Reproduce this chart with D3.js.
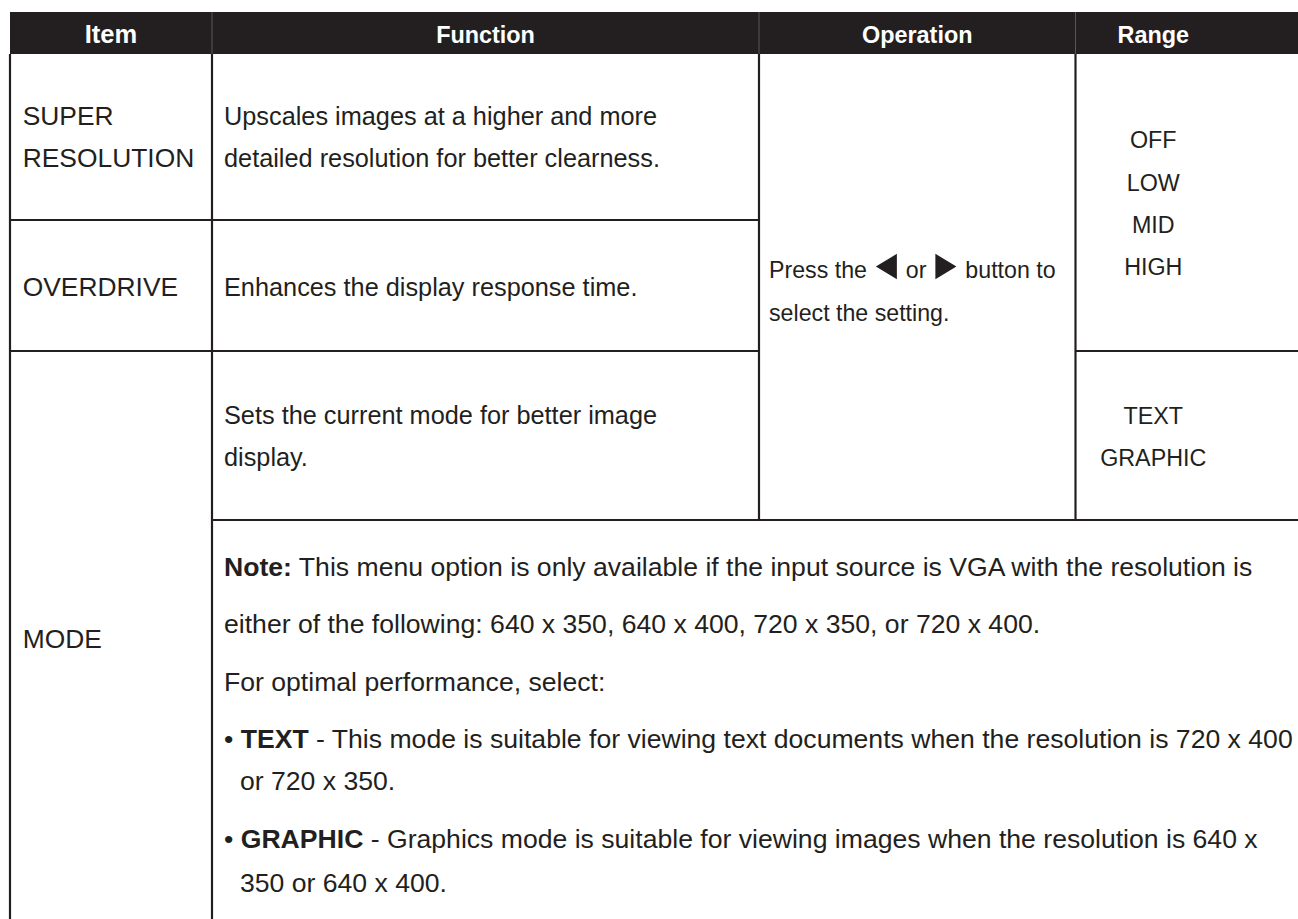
<!DOCTYPE html>
<html>
<head>
<meta charset="utf-8">
<script src="https://cdn.jsdelivr.net/npm/d3@7"></script>
<style>
  html, body { margin: 0; padding: 0; background: #ffffff; }
  svg { display: block; }
  text { font-family: "Liberation Sans", Arial, Helvetica, sans-serif; }
</style>
</head>
<body>
<svg id="chart" width="1298" height="919"></svg>
<script>
// ---------- DATA ----------
const headers = ["Item", "Function", "Operation", "Range"];
const itemLabels = [["SUPER", "RESOLUTION"], ["OVERDRIVE"], ["MODE"]];
const functionLines = [
  ["Upscales images at a higher and more", "detailed resolution for better clearness."],
  ["Enhances the display response time."],
  ["Sets the current mode for better image", "display."]
];
const operationLines = [
  [{t: "Press the "}, {tri: "left"}, {t: " or "}, {tri: "right"}, {t: " button to"}],
  [{t: "select the setting."}]
];
const rangeGroups = [["OFF", "LOW", "MID", "HIGH"], ["TEXT", "GRAPHIC"]];
const noteLines = [
  {indent: 0, parts: [{t: "Note:", b: true}, {t: " This menu option is only available if the input source is VGA with the resolution is"}]},
  {indent: 0, parts: [{t: "either of the following: 640 x 350, 640 x 400, 720 x 350, or 720 x 400."}]},
  {indent: 0, parts: [{t: "For optimal performance, select:"}]},
  {indent: 0, parts: [{t: "• "}, {t: "TEXT", b: true}, {t: " - This mode is suitable for viewing text documents when the resolution is 720 x 400"}]},
  {indent: 1, parts: [{t: "or 720 x 350."}]},
  {indent: 0, parts: [{t: "• "}, {t: "GRAPHIC", b: true}, {t: " - Graphics mode is suitable for viewing images when the resolution is 640 x"}]},
  {indent: 1, parts: [{t: "350 or 640 x 400."}]}
];

// ---------- LAYOUT ----------
const ink = "#231f20";
const fsItem = 26.4, fsFunc = 25.3, fsOp = 23.2, fsRange = 23.3, fsNote = 26.6, fsHead = 23.4;
const svg = d3.select("#chart");

// column boundaries (x) and centres
const colEdges = [10, 212, 759, 1075.5, 1231];
const colCenter = d3.scaleOrdinal().domain(headers)
  .range(headers.map((h, i) => (colEdges[i] + colEdges[i + 1]) / 2));

// row boundaries (y)
const headTop = 12, headBot = 54;
const rowEdges = [54, 220, 351, 520, 919];

// header
svg.append("rect").attr("x", 10).attr("y", headTop).attr("width", 1298 - 10).attr("height", headBot - headTop).attr("fill", ink);
svg.selectAll("line.hsep").data(colEdges.slice(1, 4)).join("line")
  .attr("class", "hsep").attr("x1", d => d).attr("x2", d => d).attr("y1", headTop).attr("y2", headBot)
  .attr("stroke", "#5a5657").attr("stroke-width", 1);
svg.selectAll("text.head").data(headers).join("text")
  .attr("class", "head").attr("x", d => colCenter(d)).attr("y", 42.7)
  .attr("text-anchor", "middle").attr("fill", "#ffffff").attr("font-weight", "bold")
  .attr("font-size", d => d === "Item" ? 25.5 : fsHead).text(d => d);

// grid lines
const gridLines = [
  {x1: 10, x2: 10, y1: headBot, y2: 919},
  {x1: 212, x2: 212, y1: headBot, y2: 919},
  {x1: 759, x2: 759, y1: headBot, y2: rowEdges[3]},
  {x1: 1075.5, x2: 1075.5, y1: headBot, y2: rowEdges[3]},
  {x1: 10, x2: 759, y1: rowEdges[1], y2: rowEdges[1]},
  {x1: 10, x2: 759, y1: rowEdges[2], y2: rowEdges[2]},
  {x1: 1075.5, x2: 1298, y1: rowEdges[2], y2: rowEdges[2]},
  {x1: 212, x2: 1298, y1: rowEdges[3], y2: rowEdges[3]}
];
svg.selectAll("line.grid").data(gridLines).join("line")
  .attr("class", "grid")
  .attr("x1", d => d.x1).attr("x2", d => d.x2).attr("y1", d => d.y1).attr("y2", d => d.y2)
  .attr("stroke", ink).attr("stroke-width", 2.2);

const lh = 42.2;
// items
const itemBase = [124.6, 295.5, 648.3];
itemLabels.forEach((lines, i) => {
  svg.append("g").selectAll("text").data(lines).join("text")
    .attr("x", 22.7).attr("y", (d, j) => itemBase[i] + j * lh)
    .attr("fill", ink).attr("font-size", fsItem).text(d => d);
});
// functions
const funcBase = [124.6, 295.5, 424.2];
functionLines.forEach((lines, i) => {
  svg.append("g").selectAll("text").data(lines).join("text")
    .attr("x", 224).attr("y", (d, j) => funcBase[i] + j * lh)
    .attr("fill", ink).attr("font-size", fsFunc).text(d => d);
});
// ranges
const rangeBase = [148.3, 424.2];
rangeGroups.forEach((lines, i) => {
  svg.append("g").selectAll("text").data(lines).join("text")
    .attr("x", colCenter("Range")).attr("y", (d, j) => rangeBase[i] + j * lh)
    .attr("text-anchor", "middle").attr("fill", ink).attr("font-size", fsRange).text(d => d);
});

// operation with triangles
const opBase = 277.8;
operationLines.forEach((parts, i) => {
  let x = 769;
  const y = opBase + i * 43.2;
  parts.forEach(p => {
    if (p.t !== undefined) {
      const t = svg.append("text").attr("x", x).attr("y", y).attr("fill", ink)
        .attr("font-size", fsOp).attr("xml:space", "preserve").style("white-space", "pre").text(p.t);
      x += t.node().getComputedTextLength();
    } else {
      const w = 21, top = y - 24, bot = y + 1.5;
      const mid = (top + bot) / 2;
      const x0 = x + 2.5;
      const pts = p.tri === "left"
        ? [[x0, mid], [x0 + w, top], [x0 + w, bot]]
        : [[x0, top], [x0 + w, mid], [x0, bot]];
      svg.append("path").attr("d", d3.line()(pts) + "Z").attr("fill", ink);
      x += w + 5;
    }
  });
});

// notes
const noteBase = [575.7, 633.2, 690.8, 747.8, 790.2, 848.2, 891.7];
noteLines.forEach((ln, i) => {
  const t = svg.append("text").attr("x", ln.indent ? 240 : 224).attr("y", noteBase[i])
    .attr("fill", ink).attr("font-size", fsNote).attr("xml:space", "preserve").style("white-space", "pre");
  t.selectAll("tspan").data(ln.parts).join("tspan")
    .attr("font-weight", d => d.b ? "bold" : null).text(d => d.t);
});
</script>
</body>
</html>
